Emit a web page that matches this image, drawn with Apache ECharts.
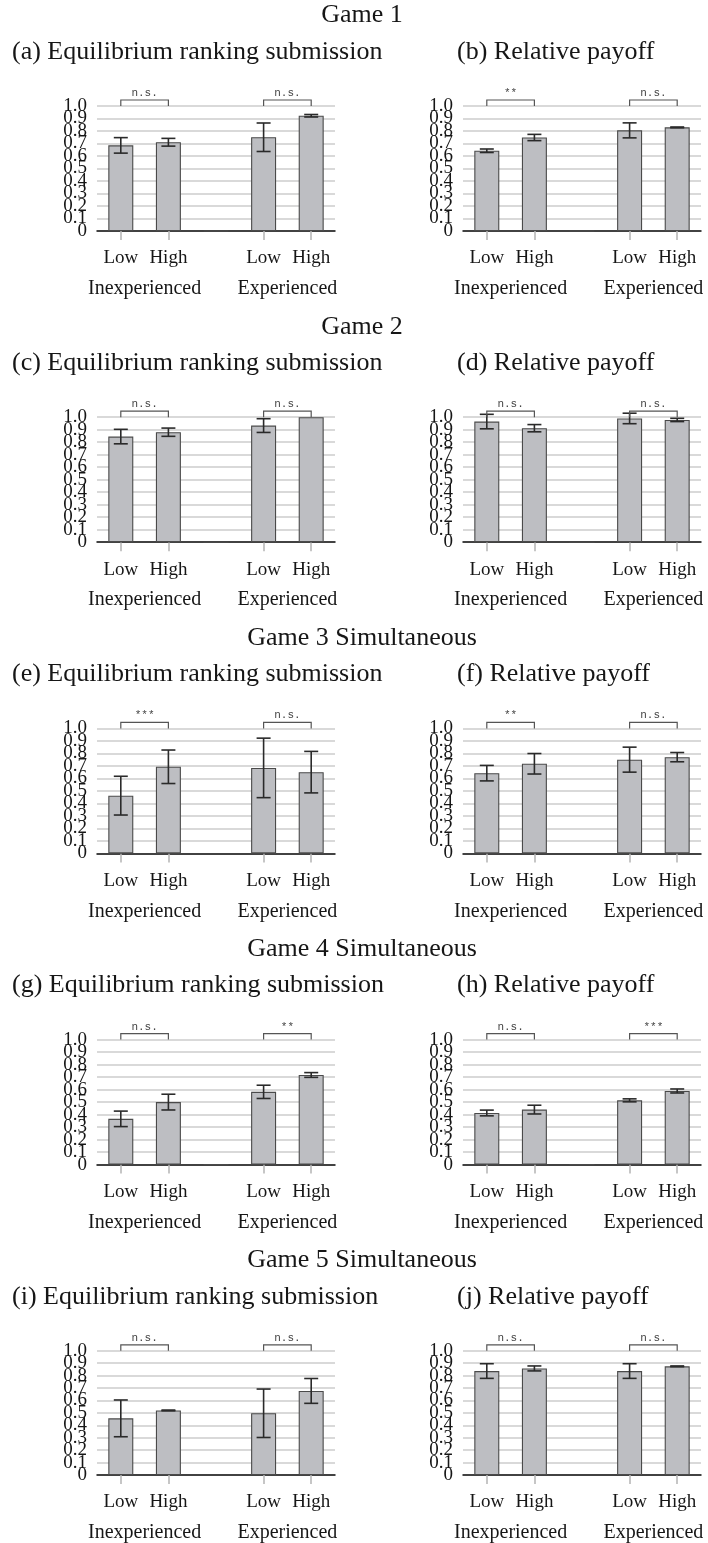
<!DOCTYPE html>
<html>
<head>
<meta charset="utf-8">
<title>Equilibrium ranking submission and relative payoff by game</title>
<script src="https://cdn.jsdelivr.net/npm/echarts@6/dist/echarts.min.js"></script>
<style>
  html, body { margin: 0; padding: 0; background: #ffffff; }
  #chart { width: 708px; height: 1543px; }
</style>
</head>
<body>
<div id="chart"></div>
<script>
// Category slots: two treatments per experience group, with an empty spacer slot between groups
const categories = ['Low', 'High', '', 'Low', 'High'];
const groupLabels = ['Inexperienced', 'Experienced'];
const groupCenters = [0.5, 3.5];
const yTickLabels = ['0', '0.1', '0.2', '0.3', '0.4', '0.5', '0.6', '0.7', '0.8', '0.9', '1.0'];
const comparedPairs = [[0, 1], [3, 4]];

const gameTitles = ['Game 1', 'Game 2', 'Game 3 Simultaneous', 'Game 4 Simultaneous', 'Game 5 Simultaneous'];
const panelTitles = [
  '(a) Equilibrium ranking submission', '(b) Relative payoff',
  '(c) Equilibrium ranking submission', '(d) Relative payoff',
  '(e) Equilibrium ranking submission', '(f) Relative payoff',
  '(g) Equilibrium ranking submission', '(h) Relative payoff',
  '(i) Equilibrium ranking submission', '(j) Relative payoff'
];

// Means and error half-widths per panel (spacer slot is 0 or null)
const meanA = [0.685, 0.710, 0, 0.750, 0.922];
const errA  = [0.062, 0.031, 0, 0.114, 0.010];
const sigA  = ['n.s.', 'n.s.'];

const meanB = [0.642, 0.748, 0, 0.805, 0.829];
const errB  = [0.014, 0.025, 0, 0.060, 0.003];
const sigB  = ['**', 'n.s.'];

const meanC = [0.845, 0.880, 0, 0.933, 1.000];
const errC  = [0.058, 0.033, 0, 0.055, 0];
const sigC  = ['n.s.', 'n.s.'];

const meanD = [0.965, 0.912, 0, 0.990, 0.978];
const errD  = [0.058, 0.029, 0, 0.042, 0.013];
const sigD  = ['n.s.', 'n.s.'];

const meanE = [0.462, 0.693, null, 0.684, 0.650];
const errE  = [0.155, 0.134, 0, 0.238, 0.166];
const sigE  = ['***', 'n.s.'];

const meanF = [0.642, 0.717, null, 0.750, 0.770];
const errF  = [0.062, 0.082, 0, 0.100, 0.037];
const sigF  = ['**', 'n.s.'];

const meanG = [0.366, 0.500, 0, 0.582, 0.717];
const errG  = [0.062, 0.063, 0, 0.053, 0.019];
const sigG  = ['n.s.', '**'];

const meanH = [0.413, 0.440, 0, 0.514, 0.589];
const errH  = [0.023, 0.035, 0, 0.012, 0.016];
const sigH  = ['n.s.', '***'];

const meanI = [0.456, 0.520, null, 0.497, 0.677];
const errI  = [0.148, 0.003, 0, 0.195, 0.100];
const sigI  = ['n.s.', 'n.s.'];

const meanJ = [0.837, 0.858, null, 0.837, 0.875];
const errJ  = [0.059, 0.020, 0, 0.059, 0.003];
const sigJ  = ['n.s.', 'n.s.'];

const panels = [
  { mean: meanA, err: errA, sig: sigA }, { mean: meanB, err: errB, sig: sigB },
  { mean: meanC, err: errC, sig: sigC }, { mean: meanD, err: errD, sig: sigD },
  { mean: meanE, err: errE, sig: sigE }, { mean: meanF, err: errF, sig: sigF },
  { mean: meanG, err: errG, sig: sigG }, { mean: meanH, err: errH, sig: sigH },
  { mean: meanI, err: errI, sig: sigI }, { mean: meanJ, err: errJ, sig: sigJ }
];

// Layout
const SERIF = '"Liberation Serif", "Times New Roman", serif';
const rowStep = 311.2;
const plotTop = 106;
const plotHeight = 125;
const colLeft = [97, 463];
const plotWidth = 238;
const titleLeft = [12, 457];
const textColor = '#161616';

const grids = [], xAxes = [], yAxes = [], series = [], graphics = [];

gameTitles.forEach(function (t, r) {
  graphics.push({
    type: 'text', x: 362, y: 15.5 + r * rowStep,
    style: { text: t, font: '26px ' + SERIF, fill: textColor, align: 'center', verticalAlign: 'middle' }
  });
});

// The tick labels sit closer than their own height, so even and odd labels go on two
// coincident axes; blank entries keep the library from dropping crowded labels.
function yLabelAxis(gridIndex, parity, withGrid) {
  return {
    type: 'value', gridIndex: gridIndex, position: 'left', offset: 0,
    min: 0, max: 1, interval: 0.1,
    axisLine: { show: false }, axisTick: { show: false },
    axisLabel: {
      margin: 10, fontFamily: SERIF, fontSize: 19, color: textColor,
      formatter: function (v) {
        const k = Math.round(v * 10);
        return k % 2 === parity ? yTickLabels[k] : '';
      }
    },
    splitLine: { show: withGrid, lineStyle: { color: '#cdcdcd', width: 1.5 } }
  };
}

panels.forEach(function (p, i) {
  const r = Math.floor(i / 2), c = i % 2;
  const top = plotTop + r * rowStep;

  graphics.push({
    type: 'text', x: titleLeft[c], y: 52 + r * rowStep,
    style: { text: panelTitles[i], font: '26px ' + SERIF, fill: textColor, align: 'left', verticalAlign: 'middle' }
  });

  grids.push({ left: colLeft[c], top: top, width: plotWidth, height: plotHeight });

  // Treatment axis
  xAxes.push({
    type: 'category', gridIndex: i, data: categories, position: 'bottom',
    axisLine: { lineStyle: { color: '#111', width: 1.5 } },
    axisTick: {
      show: true, alignWithLabel: true, length: 9,
      interval: function (idx) { return categories[idx] !== ''; },
      lineStyle: { color: '#b4b4b4', width: 1.5 }
    },
    axisLabel: { interval: 0, margin: 18, fontFamily: SERIF, fontSize: 19, color: textColor },
    splitLine: { show: false }
  });
  // Experience-group axis
  xAxes.push({
    type: 'value', gridIndex: i, position: 'bottom', min: -0.5, max: 4.5,
    axisLine: { show: false }, axisTick: { show: false }, splitLine: { show: false },
    axisLabel: {
      customValues: groupCenters, margin: 48, fontFamily: SERIF, fontSize: 20, color: textColor,
      formatter: function (v) { return groupLabels[groupCenters.indexOf(v)]; }
    }
  });

  yAxes.push(yLabelAxis(i, 0, true));
  yAxes.push(yLabelAxis(i, 1, false));
  const yIdx = 2 * i;

  series.push({
    type: 'bar', xAxisIndex: 2 * i, yAxisIndex: yIdx,
    data: p.mean.map(function (v) { return v === null ? '-' : v; }),
    barWidth: 25, z: 3,
    itemStyle: { color: '#bdbec2', borderColor: '#4a4a4a', borderWidth: 1.1 },
    animation: false
  });

  const errData = [];
  p.mean.forEach(function (m, k) { if (m !== null && p.err[k] > 0) errData.push([k, m, p.err[k]]); });
  series.push({
    type: 'custom', xAxisIndex: 2 * i, yAxisIndex: yIdx, z: 4, animation: false,
    data: errData,
    encode: { x: 0, y: 1 },
    renderItem: function (params, api) {
      const x = api.value(0), m = api.value(1), e = api.value(2);
      const hi = api.coord([x, m + e]), lo = api.coord([x, m - e]);
      const w = 7;
      const st = { stroke: '#2a2a2a', lineWidth: 1.6 };
      return {
        type: 'group', children: [
          { type: 'line', shape: { x1: hi[0], y1: hi[1], x2: lo[0], y2: lo[1] }, style: st },
          { type: 'line', shape: { x1: hi[0] - w, y1: hi[1], x2: hi[0] + w, y2: hi[1] }, style: st },
          { type: 'line', shape: { x1: lo[0] - w, y1: lo[1], x2: lo[0] + w, y2: lo[1] }, style: st }
        ]
      };
    }
  });

  // Significance brackets over each compared pair
  series.push({
    type: 'custom', xAxisIndex: 2 * i, yAxisIndex: yIdx, z: 5, animation: false, clip: false,
    data: comparedPairs.map(function (pr) { return [pr[0], 1]; }),
    encode: { x: 0, y: 1 },
    renderItem: function (params, api) {
      const pr = comparedPairs[params.dataIndex];
      const a = api.coord([pr[0], 1]), b = api.coord([pr[1], 1]);
      const yTop = a[1] - 6;
      return {
        type: 'group', children: [
          { type: 'polyline', shape: { points: [[a[0], a[1]], [a[0], yTop], [b[0], yTop], [b[0], b[1]]] },
            style: { stroke: '#555', lineWidth: 1.2, fill: null } },
          { type: 'text', x: (a[0] + b[0]) / 2, y: yTop - 7,
            style: { text: p.sig[params.dataIndex], font: '11px "Liberation Mono", monospace', fill: '#444',
                     align: 'center', verticalAlign: 'middle' } }
        ]
      };
    }
  });
});

const chart = echarts.init(document.getElementById('chart'), null, { renderer: 'canvas' });
chart.setOption({
  animation: false,
  backgroundColor: '#ffffff',
  grid: grids,
  xAxis: xAxes,
  yAxis: yAxes,
  series: series,
  graphic: graphics
});
</script>
</body>
</html>
